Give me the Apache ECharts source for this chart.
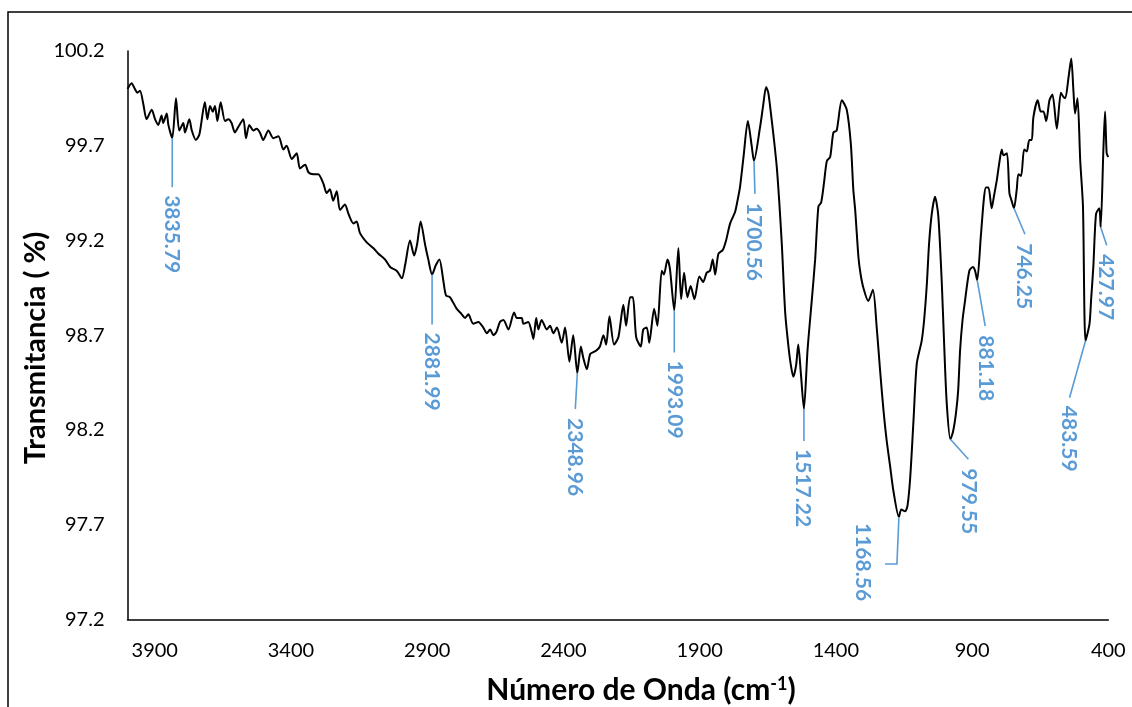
<!DOCTYPE html>
<html>
<head>
<meta charset="utf-8">
<script src="https://cdn.jsdelivr.net/npm/echarts@6/dist/echarts.min.js"></script>
<style>html,body{margin:0;padding:0;background:#fff}#c{width:1132px;height:707px}</style>
</head>
<body>
<div id="c"></div>
<script>
const wavenumbers = [
4000,3985,3973,3964,3954,3942,3930,3911,3899,3887,3875,3869,3856,3850,3835.79,3822,3810,3795,3789,3773,
3764,3749,3736,3716,3707,3697,3687,3679,3670,3658,3642,3630,3618,3606,3593,3575,3565,3553,3538,3526,
3514,3502,3483,3465,3446,3428,3416,3397,3379,3367,3348,3336,3318,3300,3281,3269,3257,3245,3232,3220,
3202,3189,3171,3159,3147,3122,3098,3079,3055,3036,3012,2993,2981,2963,2948,2937,2924,2908,2896,2881.99,
2868,2855,2841,2831,2816,2792,2773,2761,2749,2731,2712,2694,2681,2669,2657,2645,2633,2620,2602,2581,
2571,2553,2547,2529,2517,2510,2500,2492,2480,2461,2449,2437,2424,2406,2394,2378,2364,2348.96,2336,2327,
2314,2302,2290,2278,2266,2253,2243,2231,2214,2198,2180,2170,2155,2145,2133,2116,2107,2094,2085,2067,
2055,2039,2031,2018,2009,1993.09,1978,1968,1957,1945,1933,1919,1901,1887,1874,1862,1852,1843,1831,1815,
1803,1788,1770,1761,1752,1739,1723,1709,1700.56,1678,1667,1656,1648,1635,1627,1617,1608,1598,1586,1574,
1565,1556,1546,1538,1528,1517.22,1504,1488,1476,1464,1454,1443,1433,1421,1409,1397,1378,1360,1345,1336,
1329,1317,1309,1299,1281,1264,1250,1238,1225,1214,1201,1189,1168.56,1160,1146,1137,1127,1115,1103,1085,
1076,1066,1058,1048,1036,1024,1011,1003,993,979.55,970,959,951,944,935,926,910,897,889,881.18,
868,856,849,840,828,819,809,801,791,785,772,763,755,746.25,736,730,720,709,699,690,
681,675,659,648,638,628,616,605,589,574,566,558,546,536,528,522,513,503,493,483.59,
469,463,455,445,433,427.97,418,412,406,400
];
const transmittance = [
100.00,100.03,100.00,99.98,99.99,99.92,99.84,99.89,99.84,99.81,99.86,99.82,99.87,99.81,99.74,99.95,99.78,99.82,99.77,99.84,
99.78,99.73,99.76,99.93,99.84,99.91,99.88,99.91,99.83,99.93,99.83,99.84,99.82,99.77,99.80,99.84,99.74,99.81,99.78,99.79,
99.77,99.73,99.78,99.74,99.75,99.68,99.70,99.63,99.66,99.58,99.60,99.56,99.55,99.55,99.50,99.45,99.47,99.41,99.46,99.36,
99.39,99.34,99.29,99.30,99.24,99.19,99.16,99.13,99.10,99.06,99.04,99.00,99.07,99.20,99.12,99.18,99.30,99.18,99.10,99.02,
99.07,99.10,98.99,98.91,98.90,98.84,98.81,98.79,98.81,98.76,98.77,98.74,98.71,98.73,98.70,98.72,98.77,98.78,98.73,98.82,
98.79,98.79,98.76,98.77,98.72,98.68,98.79,98.73,98.78,98.73,98.75,98.71,98.74,98.66,98.74,98.56,98.70,98.50,98.64,98.58,
98.52,98.60,98.61,98.62,98.64,98.70,98.65,98.80,98.65,98.69,98.86,98.75,98.90,98.90,98.69,98.64,98.73,98.74,98.66,98.84,
98.75,99.04,99.02,99.10,99.05,98.83,99.16,98.89,99.03,98.90,98.96,98.89,99.01,98.98,99.03,99.04,99.10,99.02,99.13,99.15,
99.20,99.29,99.35,99.41,99.48,99.64,99.83,99.70,99.62,99.80,99.91,100.01,99.98,99.83,99.73,99.59,99.41,99.17,98.82,98.64,
98.54,98.48,98.54,98.65,98.49,98.31,98.62,98.89,99.10,99.38,99.40,99.51,99.62,99.64,99.77,99.78,99.94,99.89,99.71,99.47,
99.36,99.11,99.02,98.95,98.88,98.94,98.74,98.52,98.30,98.15,98.01,97.88,97.74,97.78,97.77,97.80,97.95,98.25,98.55,98.67,
98.78,98.97,99.18,99.34,99.43,99.33,98.97,98.67,98.34,98.15,98.19,98.29,98.41,98.62,98.78,98.88,99.04,99.06,99.04,98.99,
99.22,99.43,99.48,99.48,99.37,99.44,99.52,99.60,99.68,99.65,99.66,99.45,99.41,99.37,99.47,99.55,99.54,99.68,99.67,99.73,
99.73,99.85,99.94,99.88,99.88,99.83,99.94,99.97,99.79,99.98,99.96,99.95,100.06,100.16,99.99,99.87,99.95,99.62,99.38,98.67,
98.76,98.89,99.06,99.34,99.37,99.27,99.68,99.88,99.66,99.64
];
const peakWavenumbers = [3835.79, 2881.99, 2348.96, 1993.09, 1700.56, 1517.22, 1168.56, 979.55, 881.18, 746.25, 483.59, 427.97];
const peakLabels = ['3835.79', '2881.99', '2348.96', '1993.09', '1700.56', '1517.22', '1168.56', '979.55', '881.18', '746.25', '483.59', '427.97'];
const xTickValues = [3900, 3400, 2900, 2400, 1900, 1400, 900, 400];
const yTickValues = [97.2, 97.7, 98.2, 98.7, 99.2, 99.7, 100.2];

// layout of annotation leaders (pixel offsets from the marked point)
const leaderPaths = [
  [[0,0],[0,49]], [[0,0],[0,50]], [[0,0],[-2,36]], [[0,0],[0,42]], [[0,0],[1,33]], [[0,0],[0,32]],
  [[0,0],[-2,47],[-14,47]], [[0,0],[18,20]], [[0,0],[8,46]], [[0,0],[11,26]], [[0,0],[-16,57]], [[0,0],[6,18]]
];
const labelAnchors = [
  [0,57], [0,58], [-3,45], [0,50], [0,42], [-1,40],
  [-36,6], [18,29], [9,55], [10,35], [-17,65], [5,27]
];

const lineData = wavenumbers.map((w, i) => [w, transmittance[i]]);
const peakData = peakWavenumbers.map(w => [w, transmittance[wavenumbers.indexOf(w)]]);

const chart = echarts.init(document.getElementById('c'), null, {renderer: 'canvas'});
const FONT = 'Lato, "Open Sans", sans-serif';
chart.setOption({
  animation: false,
  backgroundColor: '#fff',
  grid: {left: 127.5, top: 51, right: 23.7, bottom: 87.7, containLabel: false},
  xAxis: {
    type: 'value', inverse: true, min: 400, max: 4000,
    axisLine: {show: true, onZero: false, lineStyle: {color: '#000', width: 1.5}},
    axisTick: {show: false},
    splitLine: {show: false},
    axisLabel: {customValues: xTickValues, fontFamily: FONT, fontSize: 20, color: '#000', margin: 21,
      formatter: v => String(v)}
  },
  yAxis: {
    type: 'value', min: 97.2, max: 100.2, interval: 0.5,
    axisLine: {show: true, onZero: false, lineStyle: {color: '#000', width: 1.5}},
    axisTick: {show: false},
    splitLine: {show: false},
    axisLabel: {customValues: yTickValues, fontFamily: FONT, fontSize: 20, color: '#000', margin: 23,
      formatter: v => Number(v).toFixed(1)}
  },
  series: [
    {
      type: 'line', data: lineData, showSymbol: false, smooth: 0.25,
      lineStyle: {color: '#000', width: 2}, z: 2
    },
    {
      type: 'custom', data: peakData, z: 3, clip: false,
      renderItem: function (params, api) {
        const i = params.dataIndex;
        const p = api.coord([api.value(0), api.value(1)]);
        const pts = leaderPaths[i].map(d => [p[0] + d[0], p[1] + d[1]]);
        const a = labelAnchors[i];
        return {
          type: 'group',
          children: [
            {type: 'polyline', shape: {points: pts}, style: {stroke: '#5B9BD5', lineWidth: 1.6, fill: null}},
            {type: 'text', x: p[0] + a[0], y: p[1] + a[1], rotation: -Math.PI / 2,
              style: {text: peakLabels[i], fill: '#5B9BD5', font: 'bold 21px ' + FONT, align: 'left', verticalAlign: 'middle'}}
          ]
        };
      }
    }
  ],
  graphic: [
    {type: 'rect', shape: {x: 8, y: 12, width: 1140, height: 720}, style: {fill: null, stroke: '#000', lineWidth: 1.5}, z: 0, silent: true},
    {type: 'text', x: 36, y: 348, rotation: Math.PI / 2,
      style: {text: 'Transmitancia ( %)', font: 'bold 29px ' + FONT, fill: '#000', align: 'center', verticalAlign: 'middle'}},
    {type: 'text', x: 641, y: 690,
      style: {text: '{t|Número de Onda (cm}{s|-1}{t|)}', align: 'center', verticalAlign: 'middle',
        rich: {
          t: {fontFamily: FONT, fontWeight: 'bold', fontSize: 30, fill: '#000', color: '#000'},
          s: {fontFamily: FONT, fontWeight: 'bold', fontSize: 18, fill: '#000', color: '#000', verticalAlign: 'top'}
        }}}
  ]
});
</script>
</body>
</html>
